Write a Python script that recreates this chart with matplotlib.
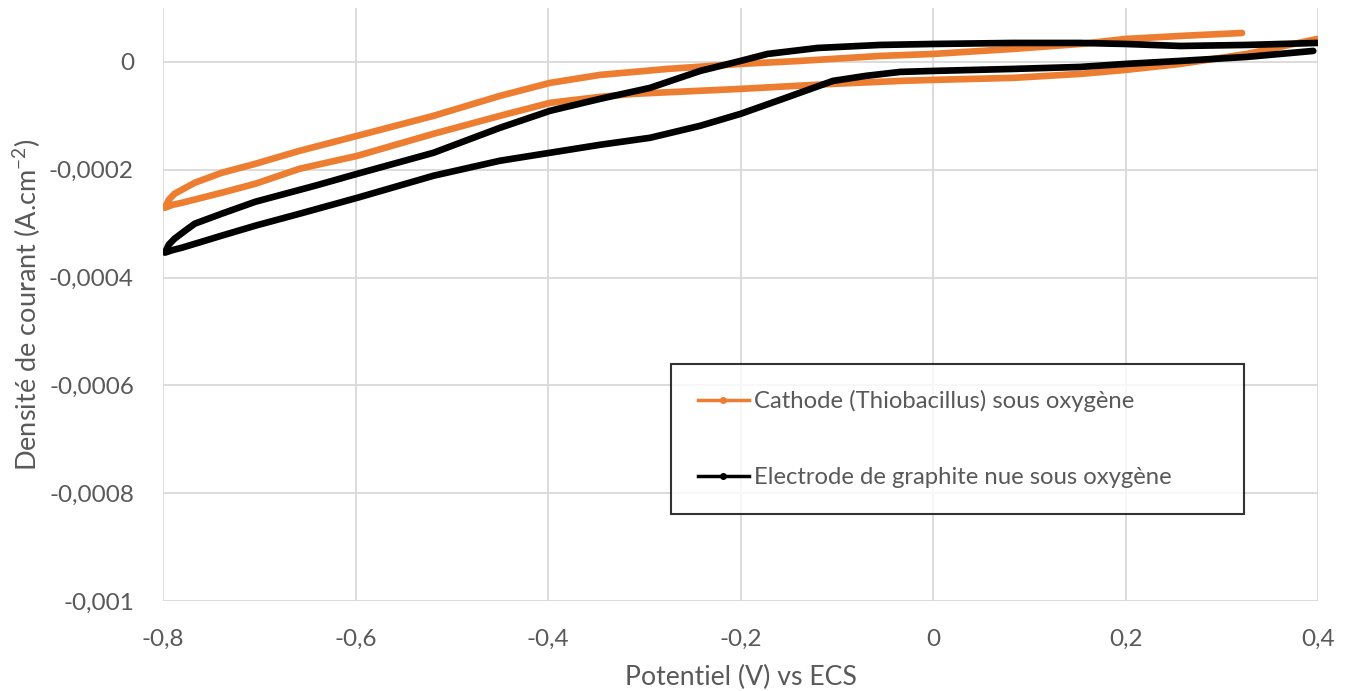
import matplotlib.pyplot as plt
from matplotlib.lines import Line2D

# Cathode (Thiobacillus) sous oxygene : balayage de 0,32 V vers -0,8 V puis retour vers 0,4 V
cathode_x = [0.321, 0.257, 0.200, 0.153, 0.083, 0.000, -0.055, -0.138, -0.200, -0.276,
             -0.346, -0.398, -0.450, -0.519, -0.598, -0.658, -0.704, -0.739, -0.767, -0.788,
             -0.794, -0.798,
             -0.790, -0.780, -0.739, -0.704, -0.658, -0.598, -0.519, -0.450, -0.398, -0.346,
             -0.312, -0.200, -0.104, -0.034, 0.000, 0.083, 0.153, 0.200, 0.257, 0.326, 0.399]
cathode_y = [5.37e-5, 4.82e-5, 4.26e-5, 3.33e-5, 2.41e-5, 1.48e-5, 1.11e-5, 1.9e-6, -3.7e-6, -1.30e-5,
             -2.41e-5, -3.89e-5, -6.30e-5, -1.00e-4, -1.370e-4, -1.648e-4, -1.889e-4, -2.056e-4, -2.241e-4, -2.444e-4,
             -2.556e-4, -2.704e-4,
             -2.65e-4, -2.611e-4, -2.426e-4, -2.259e-4, -1.981e-4, -1.741e-4, -1.333e-4, -1.00e-4, -7.59e-5, -6.48e-5,
             -5.93e-5, -5.00e-5, -4.07e-5, -3.52e-5, -3.33e-5, -2.96e-5, -2.22e-5, -1.48e-5, -3.7e-6, 1.48e-5, 4.26e-5]

# Electrode de graphite nue sous oxygene : de 0,4 V vers -0,8 V puis retour
graphite_x = [0.399, 0.326, 0.257, 0.200, 0.153, 0.083, 0.000, -0.055, -0.120, -0.172,
              -0.200, -0.242, -0.294, -0.346, -0.398, -0.450, -0.519, -0.598, -0.642, -0.704,
              -0.739, -0.767, -0.777, -0.788, -0.794, -0.798,
              -0.790, -0.780, -0.739, -0.704, -0.658, -0.598, -0.519, -0.450, -0.398, -0.346,
              -0.294, -0.242, -0.200, -0.156, -0.104, -0.070, -0.034, 0.000, 0.083, 0.153,
              0.200, 0.257, 0.326, 0.395]
graphite_y = [3.52e-5, 3.15e-5, 2.96e-5, 3.33e-5, 3.52e-5, 3.52e-5, 3.33e-5, 3.15e-5, 2.59e-5, 1.48e-5,
              1.9e-6, -1.67e-5, -4.81e-5, -6.85e-5, -9.07e-5, -1.222e-4, -1.685e-4, -2.074e-4, -2.296e-4, -2.593e-4,
              -2.815e-4, -3.00e-4, -3.13e-4, -3.278e-4, -3.389e-4, -3.537e-4,
              -3.49e-4, -3.444e-4, -3.222e-4, -3.037e-4, -2.815e-4, -2.519e-4, -2.111e-4, -1.833e-4, -1.685e-4, -1.537e-4,
              -1.407e-4, -1.185e-4, -9.63e-5, -6.85e-5, -3.52e-5, -2.59e-5, -1.85e-5, -1.67e-5, -1.30e-5, -9.3e-6,
              -3.7e-6, 1.9e-6, 9.3e-6, 2.04e-5]

x_ticks = [-0.8, -0.6, -0.4, -0.2, 0, 0.2, 0.4]
x_labels = ['-0,8', '-0,6', '-0,4', '-0,2', '0', '0,2', '0,4']
y_ticks = [0, -0.0002, -0.0004, -0.0006, -0.0008, -0.001]
y_labels = ['0', '-0,0002', '-0,0004', '-0,0006', '-0,0008', '-0,001']

labels = ['Cathode (Thiobacillus) sous oxygène', 'Electrode de graphite nue sous oxygène']
orange = '#ED7D31'
grey_text = '#595959'

plt.rcParams['font.family'] = ['Lato', 'DejaVu Sans']
plt.rcParams['mathtext.fontset'] = 'custom'
plt.rcParams['mathtext.rm'] = 'Lato'

fig = plt.figure(figsize=(13.52, 6.91), dpi=100)
ax = fig.add_axes([0.1206, 0.1302, 0.8543, 0.8582])

ax.plot(cathode_x, cathode_y, color=orange, lw=4.8, solid_joinstyle='round',
        solid_capstyle='round', zorder=3)
ax.plot(graphite_x, graphite_y, color='black', lw=4.8, solid_joinstyle='round',
        solid_capstyle='round', zorder=4)

ax.set_xlim(-0.8, 0.4)
ax.set_ylim(-0.001, 0.0001)
ax.set_xticks(x_ticks)
ax.set_xticklabels(x_labels)
ax.set_yticks(y_ticks)
ax.set_yticklabels(y_labels)
ax.grid(True, color='#d9d9d9', lw=1.3)
ax.set_axisbelow(True)
for s in ax.spines.values():
    s.set_visible(False)
ax.tick_params(length=0, labelsize=17.5, labelcolor=grey_text)
ax.tick_params(axis='x', pad=20)
ax.tick_params(axis='y', pad=21)

ax.set_xlabel('Potentiel (V) vs ECS', fontsize=19.2, color=grey_text)
ax.set_ylabel('Densité de courant (A.cm$^{\\mathrm{-2}}$)', fontsize=19.5, color=grey_text)
ax.xaxis.set_label_coords(0.5, -0.107)
ax.yaxis.set_label_coords(-0.104, 0.5)

handles = [Line2D([], [], color=orange, lw=2.5, marker='o', markersize=4),
           Line2D([], [], color='black', lw=2.5, marker='o', markersize=4)]
leg = ax.legend(handles, labels, loc='center', bbox_to_anchor=(0.44, 0.145, 0.496, 0.256),
                mode='expand', fontsize=17.2, labelcolor=grey_text, frameon=True, fancybox=False,
                edgecolor='black', handlelength=2.15, handletextpad=0.2, labelspacing=2.3,
                borderpad=1.1, borderaxespad=0)
leg.get_frame().set_linewidth(1.5)

fig.savefig('out.png', dpi=100)
